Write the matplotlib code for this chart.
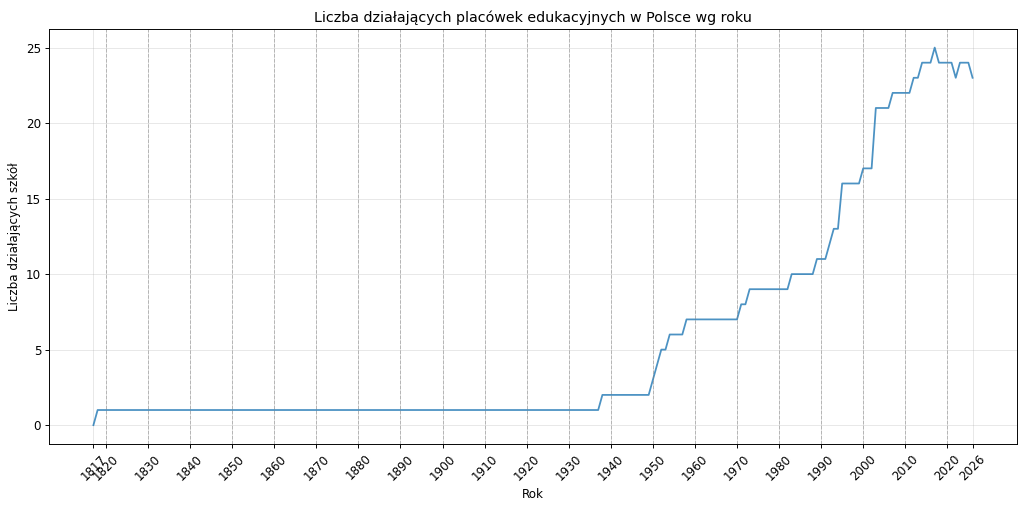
import numpy as np
import matplotlib
matplotlib.use('Agg')
import matplotlib.pyplot as plt

# liczba działających szkół - poziomy i ile lat trwał każdy poziom (od 1817)
first_year = 1817
levels = [0, 1, 2, 3, 4, 5, 6, 7, 8, 9, 10, 11, 12, 13, 16, 17, 21, 22, 23, 24, 25, 24, 23, 24, 23]
run_lengths = [1, 120, 12, 1, 1, 2, 4, 13, 2, 10, 6, 3, 1, 2, 5, 3, 4, 5, 2, 3, 1, 4, 1, 3, 1]

counts = np.repeat(levels, run_lengths)
years = np.arange(first_year, first_year + len(counts))

decades = list(range(1820, 2021, 10))
xticks = [years[0]] + decades + [years[-1]]

dpi = 1024 / 12
fig, ax = plt.subplots(figsize=(12, 508 / dpi), dpi=dpi)
ax.plot(years, counts, linewidth=1.5, alpha=0.8)
for d in decades:
    ax.axvline(d, color='gray', linestyle='--', linewidth=0.8, alpha=0.5)
ax.set_xticks(xticks)
ax.tick_params(axis='x', labelrotation=45)
ax.grid(True, alpha=0.3)
ax.set(xlabel='Rok', ylabel='Liczba działających szkół',
       title='Liczba działających placówek edukacyjnych w Polsce wg roku')
fig.subplots_adjust(left=0.0483, right=0.9927, top=0.9435, bottom=0.126)
plt.savefig('out.png', dpi=dpi)
